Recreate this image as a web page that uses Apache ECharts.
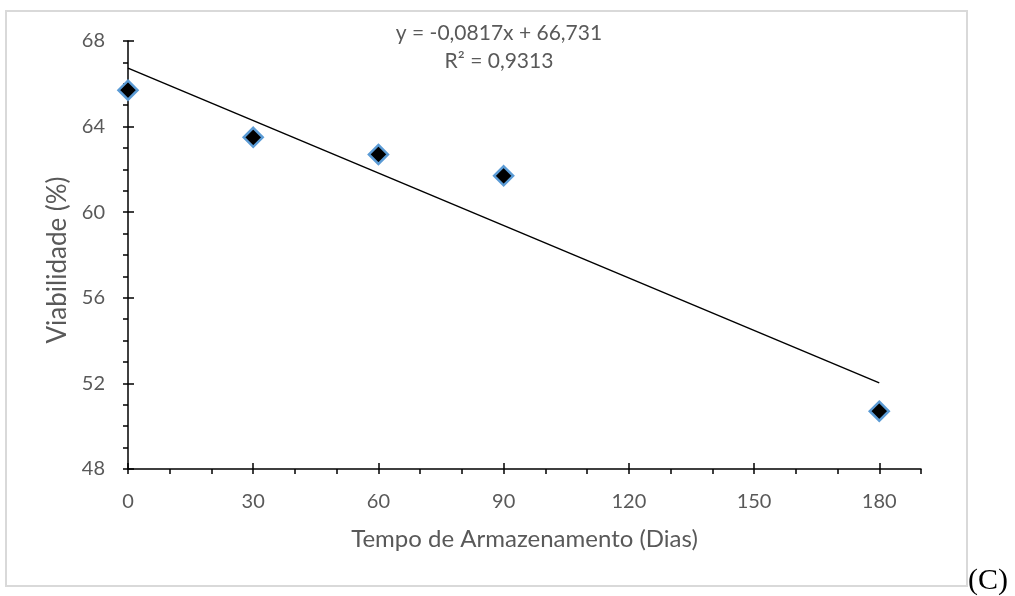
<!DOCTYPE html>
<html>
<head>
<meta charset="utf-8">
<script src="https://cdn.jsdelivr.net/npm/echarts@6/dist/echarts.min.js"></script>
<style>
html, body { margin: 0; padding: 0; background: #fff; }
#chart-panel { width: 1015px; height: 596px; }
</style>
</head>
<body>
<div id="chart-panel"></div>
<script>
/* dados */
let dias = [0, 30, 60, 90, 180]
let viabilidade = [65.7, 63.5, 62.7, 61.7, 50.7]

/* linha de tendência (equação do gráfico) */
let trendSlope = -0.0817
let trendIntercept = 66.731
let trendR2 = '0,9313'
let trendRange = [0, 180]

/* rótulos dos eixos */
let xMajorTicks = [0, 30, 60, 90, 120, 150, 180]
let yMajorTicks = [48, 52, 56, 60, 64, 68]

! function(){
    let fontFamily = 'Lato, "Open Sans", sans-serif'
    let textColor = '#595959'

    let pontos = dias.map((d, i) => [d, viabilidade[i]])
    let tendencia = trendRange.map((x) => [x, trendIntercept + trendSlope * x])

    let myChart = echarts.init(document.getElementById('chart-panel'))
    myChart.setOption({
        animation: false,
        backgroundColor: '#fff',
        grid: { left: 128, right: 94, top: 41, bottom: 127 },
        graphic: [
            {
                type: 'rect',
                shape: { x: 6, y: 11, width: 961, height: 575 },
                style: { fill: 'none', stroke: '#d9d9d9', lineWidth: 2 },
                silent: true
            },
            {
                type: 'text',
                x: 499, y: 33,
                style: {
                    text: 'y = ' + String(trendSlope).replace('.', ',') + 'x + ' + String(trendIntercept).replace('.', ','),
                    fill: textColor, font: '21px ' + fontFamily,
                    align: 'center', verticalAlign: 'middle'
                }
            },
            {
                type: 'text',
                x: 499, y: 61,
                style: {
                    text: 'R² = ' + trendR2,
                    fill: textColor, font: '21px ' + fontFamily,
                    align: 'center', verticalAlign: 'middle'
                }
            },
            {
                type: 'text',
                x: 968, y: 581,
                style: {
                    text: '(C)',
                    fill: '#000', font: '30px "Liberation Serif", "Times New Roman", serif',
                    align: 'left', verticalAlign: 'middle'
                }
            }
        ],
        xAxis: [
            {
                type: 'value',
                min: 0, max: 190, interval: 10,
                name: 'Tempo de Armazenamento (Dias)',
                nameLocation: 'middle',
                nameGap: 58,
                nameTextStyle: { color: textColor, fontSize: 24, fontFamily: fontFamily },
                axisLine: { show: true, onZero: false, lineStyle: { color: '#000', width: 1.5 } },
                axisTick: { show: true, length: 5, lineStyle: { color: '#000', width: 1.5 } },
                axisLabel: {
                    margin: 23, color: textColor, fontSize: 20, fontFamily: fontFamily,
                    formatter: (v) => xMajorTicks.indexOf(v) >= 0 ? String(v) : ''
                },
                splitLine: { show: false }
            },
            {
                type: 'value',
                min: 0, max: 190,
                position: 'bottom',
                axisLine: { show: false },
                axisTick: { show: true, inside: true, length: 6, customValues: xMajorTicks, lineStyle: { color: '#000', width: 1.5 } },
                axisLabel: { show: false },
                splitLine: { show: false }
            }
        ],
        yAxis: [
            {
                type: 'value',
                min: 48, max: 68, interval: 4,
                name: 'Viabilidade (%)',
                nameLocation: 'middle',
                nameRotate: 90,
                nameGap: 55,
                nameTextStyle: { color: textColor, fontSize: 26, fontFamily: fontFamily, padding: [0, 10, 0, 0] },
                axisLine: { show: true, onZero: false, lineStyle: { color: '#000', width: 1.5 } },
                axisTick: { show: true, length: 5, lineStyle: { color: '#000', width: 1.5 } },
                minorTick: { show: true, splitNumber: 4, length: 5, lineStyle: { color: '#000', width: 1.5 } },
                axisLabel: {
                    margin: 23, color: textColor, fontSize: 20, fontFamily: fontFamily,
                    formatter: (v) => yMajorTicks.indexOf(v) >= 0 ? String(v) : ''
                },
                splitLine: { show: false }
            },
            {
                type: 'value',
                min: 48, max: 68, interval: 4,
                position: 'left',
                axisLine: { show: false },
                axisTick: { show: true, inside: true, length: 6, lineStyle: { color: '#000', width: 1.5 } },
                axisLabel: { show: false },
                splitLine: { show: false }
            }
        ],
        series: [
            {
                type: 'line',
                data: tendencia,
                symbol: 'none',
                lineStyle: { color: '#000', width: 1.5 },
                z: 2
            },
            {
                type: 'scatter',
                data: pontos,
                symbol: 'diamond',
                symbolSize: 19,
                itemStyle: { color: '#000', borderColor: '#5B9BD5', borderWidth: 2.5, opacity: 1 },
                z: 3
            }
        ]
    })
}()
</script>
</body>
</html>
